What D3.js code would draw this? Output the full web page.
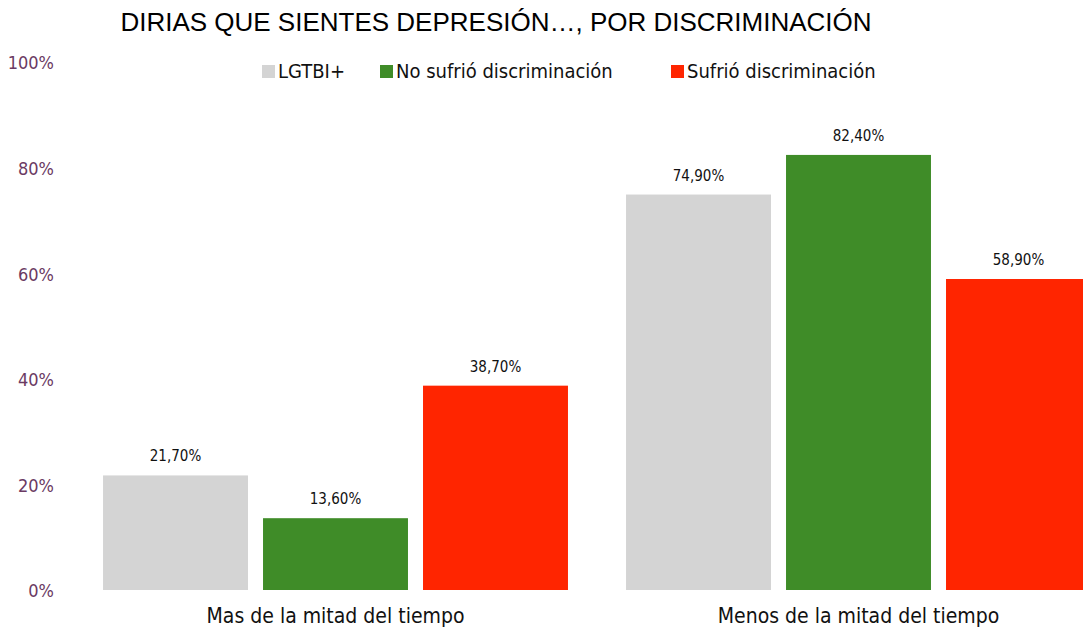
<!DOCTYPE html>
<html>
<head>
<meta charset="utf-8">
<script src="https://cdn.jsdelivr.net/npm/d3@7"></script>
<style>
  html, body { margin: 0; padding: 0; background: #fff; overflow: hidden; }
  svg { display: block; }
</style>
</head>
<body>
<svg id="chart" width="1083" height="630"></svg>
<script>
// Categories, series and values
const categories = ["Mas de la mitad del tiempo", "Menos de la mitad del tiempo"];
const seriesNames = ["LGTBI+", "No sufrió discriminación", "Sufrió discriminación"];
const seriesColors = ["#d4d4d4", "#3f8c28", "#ff2500"];
const lgtbi = [21.7, 74.9];
const noDiscrim = [13.6, 82.4];
const siDiscrim = [38.7, 58.9];
const yTicks = [0, 20, 40, 60, 80, 100];
const titleText = "DIRIAS QUE SIENTES DEPRESIÓN…, POR DISCRIMINACIÓN";

const seriesValues = [lgtbi, noDiscrim, siDiscrim];
const rows = [];
categories.forEach((c, ci) => {
  seriesNames.forEach((s, si) => rows.push({ cat: c, series: s, si, value: seriesValues[si][ci] }));
});

const svg = d3.select("#chart");
const labelFont = "'DejaVu Sans Condensed', 'DejaVu Sans', sans-serif";

const x0 = d3.scaleBand().domain(categories).range([74, 1120]).paddingInner(0.111).paddingOuter(0.0555);
const x1 = d3.scaleBand().domain(seriesNames).range([0, x0.bandwidth()]).paddingInner(0.094);
const y = d3.scaleLinear().domain([0, 100]).range([590, 62]);

// Title
svg.append("text")
  .attr("x", 496).attr("y", 31)
  .attr("text-anchor", "middle")
  .attr("font-family", "'Liberation Sans', Arial, sans-serif")
  .attr("font-size", 26)
  .attr("fill", "#000")
  .text(titleText);

// Y axis labels (no line, no ticks)
const yAxis = d3.axisLeft(y).tickValues(yTicks).tickFormat(d => d + "%").tickSize(0).tickPadding(0);
const yg = svg.append("g").attr("transform", "translate(54,0)").call(yAxis);
yg.select(".domain").remove();
yg.selectAll("text")
  .attr("dy", "0.38em")
  .attr("font-family", labelFont)
  .attr("font-size", 18)
  .attr("fill", "#6b3a63");

// Bars
const groups = svg.append("g").selectAll("g")
  .data(categories)
  .join("g")
  .attr("transform", d => `translate(${x0(d)},0)`);

groups.selectAll("rect")
  .data(c => rows.filter(r => r.cat === c))
  .join("rect")
  .attr("x", d => x1(d.series))
  .attr("width", x1.bandwidth())
  .attr("y", d => y(d.value))
  .attr("height", d => y(0) - y(d.value))
  .attr("fill", d => seriesColors[d.si]);

// Value labels
groups.selectAll("text.val")
  .data(c => rows.filter(r => r.cat === c))
  .join("text")
  .attr("class", "val")
  .attr("x", d => x1(d.series) + x1.bandwidth() / 2)
  .attr("y", d => y(d.value) - 14)
  .attr("text-anchor", "middle")
  .attr("font-family", labelFont)
  .attr("font-size", 15)
  .attr("fill", "#111")
  .text(d => d.value.toFixed(2).replace(".", ",") + "%");

// X axis labels
const xAxis = d3.axisBottom(x0).tickSize(0).tickPadding(0);
const xg = svg.append("g").attr("transform", "translate(0,623)").call(xAxis);
xg.select(".domain").remove();
xg.selectAll("text")
  .attr("y", 0)
  .attr("dy", 0)
  .attr("font-family", labelFont)
  .attr("font-size", 21)
  .attr("fill", "#111");

// Legend
const legendX = [262, 380, 671];
const lg = svg.append("g").selectAll("g")
  .data(seriesNames)
  .join("g")
  .attr("transform", (d, i) => `translate(${legendX[i]},65)`);
lg.append("rect").attr("width", 13).attr("height", 13).attr("fill", (d, i) => seriesColors[i]);
lg.append("text")
  .attr("x", 16).attr("y", 13)
  .attr("font-family", labelFont)
  .attr("font-size", 20)
  .attr("fill", "#111")
  .text(d => d);
</script>
</body>
</html>
